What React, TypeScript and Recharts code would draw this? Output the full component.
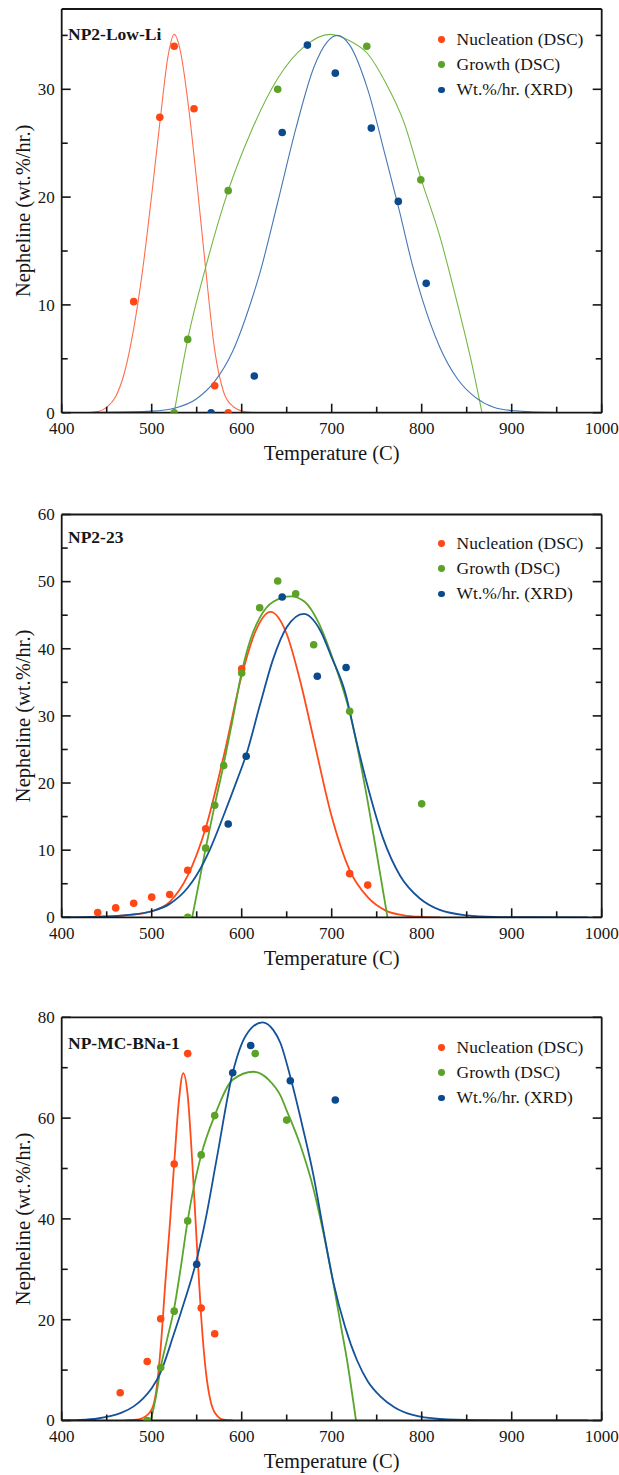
import React from 'react';
import { ComposedChart, Line, Scatter, XAxis, YAxis, Legend, Label } from 'recharts';

const FONT = '"Liberation Serif", "Times New Roman", serif';
const INK = '#161616';

// ---------- shared axis ticks ----------
const xTicks = [400, 450, 500, 550, 600, 650, 700, 750, 800, 850, 900, 950, 1000];
const xMajor = [400, 500, 600, 700, 800, 900, 1000];
const seriesNames = ['Nucleation (DSC)', 'Growth (DSC)', 'Wt.%/hr. (XRD)'];
const dotColors = ['#FF4716', '#5BA227', '#0B4A8C'];

// ---------- Panel 1: NP2-Low-Li ----------
const p1Title = 'NP2-Low-Li';
const p1YTicks = [0, 5, 10, 15, 20, 25, 30, 35];
const p1YMajor = [0, 10, 20, 30];
const p1NucT = [480, 509, 525, 547, 570, 585];
const p1NucV = [10.3, 27.4, 34.0, 28.2, 2.5, 0];
const p1GroT = [525, 540, 585, 640, 739, 799];
const p1GroV = [0, 6.8, 20.6, 30.0, 34.0, 21.6];
const p1XrdT = [566, 614, 645, 673, 704, 744, 774, 805];
const p1XrdV = [0, 3.4, 26.0, 34.1, 31.5, 26.4, 19.6, 12.0];
const p1NucCurveT = [430, 440, 450, 460, 470, 480, 490, 500, 510, 518, 525, 532, 540, 550, 560, 570, 580, 590, 600, 610, 620];
const p1NucCurveV = [0, 0.1, 0.5, 1.5, 3.8, 7.8, 13.3, 20.2, 27.6, 33.0, 35.1, 33.5, 29.0, 21.5, 13.3, 5.8, 1.9, 0.6, 0.15, 0.03, 0];
const p1GroCurveT = [525, 540, 560, 585, 610, 640, 670, 698, 720, 740, 760, 780, 800, 820, 840, 855, 867];
const p1GroCurveV = [0, 6.8, 13.5, 20.6, 26.0, 31.0, 34.0, 35.1, 34.5, 33.3, 30.6, 27.0, 21.5, 16.4, 10.0, 4.8, 0];
const p1XrdCurveT = [400, 450, 500, 525, 550, 570, 590, 610, 620, 640, 660, 680, 695, 706, 720, 740, 760, 775, 790, 800, 820, 840, 860, 880, 900, 950, 985];
const p1XrdCurveV = [0, 0.03, 0.15, 0.42, 1.3, 2.9, 5.7, 10.2, 12.9, 19.5, 26.3, 32.0, 34.4, 35.0, 34.1, 30.0, 23.7, 18.8, 13.6, 10.7, 6.1, 3.1, 1.4, 0.5, 0.2, 0.01, 0];

// ---------- Panel 2: NP2-23 ----------
const p2Title = 'NP2-23';
const p2YTicks = [0, 5, 10, 15, 20, 25, 30, 35, 40, 45, 50, 55, 60];
const p2YMajor = [0, 10, 20, 30, 40, 50, 60];
const p2NucT = [440, 460, 480, 500, 520, 540, 560, 600, 720, 740];
const p2NucV = [0.7, 1.4, 2.1, 3.0, 3.4, 7.0, 13.2, 37.0, 6.5, 4.8];
const p2GroT = [540, 560, 570, 580, 600, 620, 640, 660, 680, 720, 800];
const p2GroV = [0, 10.3, 16.7, 22.6, 36.4, 46.1, 50.1, 48.2, 40.6, 30.7, 16.9];
const p2XrdT = [585, 605, 645, 684, 716];
const p2XrdV = [13.9, 24.0, 47.7, 35.9, 37.2];
const p2NucCurveT = [450, 470, 490, 500, 520, 540, 560, 580, 600, 615, 632, 650, 665, 680, 700, 720, 740, 760, 780, 800, 820];
const p2NucCurveV = [0.1, 0.3, 0.6, 0.9, 2.3, 6.2, 13.3, 24.0, 36.0, 42.5, 45.5, 42.2, 35.2, 26.5, 15.0, 7.0, 3.0, 1.0, 0.3, 0.07, 0];
const p2GroCurveT = [545, 560, 570, 580, 590, 600, 610, 620, 635, 655, 670, 685, 702, 720, 739, 750, 762];
const p2GroCurveV = [0, 10.3, 16.7, 22.8, 29.5, 36.5, 41.5, 44.6, 47.0, 47.8, 47.0, 44.0, 38.2, 30.5, 18.0, 9.5, 0];
const p2XrdCurveT = [400, 440, 470, 500, 520, 540, 550, 565, 580, 595, 605, 620, 635, 650, 669, 687, 700, 715, 727, 739, 757, 776, 798, 820, 850, 880, 920, 985];
const p2XrdCurveV = [0, 0.1, 0.3, 0.9, 2.0, 4.4, 6.3, 10.2, 15.2, 20.5, 24.2, 31.5, 38.5, 43.2, 45.2, 42.8, 38.7, 33.5, 26.5, 20.0, 11.8, 6.2, 2.8, 1.1, 0.3, 0.07, 0.01, 0];

// ---------- Panel 3: NP-MC-BNa-1 ----------
const p3Title = 'NP-MC-BNa-1';
const p3YTicks = [0, 10, 20, 30, 40, 50, 60, 70, 80];
const p3YMajor = [0, 20, 40, 60, 80];
const p3NucT = [465, 495, 510, 525, 540, 555, 570];
const p3NucV = [5.5, 11.7, 20.2, 50.9, 72.8, 22.3, 17.2];
const p3GroT = [495, 510, 525, 540, 555, 570, 615, 650];
const p3GroV = [0, 10.5, 21.7, 39.6, 52.7, 60.5, 72.8, 59.6];
const p3XrdT = [550, 590, 610, 654, 704];
const p3XrdV = [31.0, 69.0, 74.4, 67.4, 63.6];
const p3NucCurveT = [470, 480, 490, 500, 505, 510, 515, 520, 525, 530, 535, 540, 545, 550, 555, 560, 565, 570, 580, 590];
const p3NucCurveV = [0, 0.1, 0.5, 2.2, 5.8, 14.5, 27.0, 38.5, 51.0, 63.0, 68.9, 64.5, 51.5, 35.5, 20.5, 10.0, 4.2, 1.6, 0.15, 0];
const p3GroCurveT = [499, 505, 510, 517, 525, 532, 540, 555, 570, 590, 613, 630, 643, 650, 665, 680, 692, 702, 710, 717, 727];
const p3GroCurveV = [0, 5.0, 10.5, 16.0, 22.3, 30.0, 39.7, 52.7, 60.5, 67.6, 69.2, 67.6, 64.5, 61.5, 54.7, 45.8, 36.2, 27.0, 19.0, 12.0, 0];
const p3XrdCurveT = [400, 420, 440, 455, 466, 480, 490, 500, 510, 524, 537, 549, 560, 572, 590, 605, 623, 635, 643, 655, 668, 680, 690, 702, 715, 728, 740, 754, 770, 790, 820, 860, 900, 985];
const p3XrdCurveV = [0, 0.1, 0.4, 0.9, 1.5, 2.8, 4.3, 6.4, 9.6, 16.8, 24.0, 31.2, 40.0, 51.7, 69.0, 76.5, 79.0, 77.5, 74.9, 67.5, 58.0, 48.4, 38.5, 27.3, 18.5, 12.0, 7.8, 4.8, 2.6, 1.1, 0.3, 0.05, 0.01, 0];

const zip = (xs: number[], ys: number[]) => xs.map((x, i) => ({ x, y: ys[i] }));

// ---------- tick renderers ----------
const MAJ = 9;
const MIN = 6;

const makeBottomTick = (major: number[]) => (props: any) => {
  const { x, y, payload } = props;
  const isMaj = major.includes(payload.value);
  return (
    <g>
      <line x1={x} y1={y} x2={x} y2={y - (isMaj ? MAJ : MIN)} stroke={INK} strokeWidth={1.6} />
      {isMaj && (
        <text x={x} y={y + 21.5} textAnchor="middle" fontFamily={FONT} fontSize={17} fill={INK}>
          {payload.value}
        </text>
      )}
    </g>
  );
};
const makeTopTick = (major: number[]) => (props: any) => {
  const { x, y, payload } = props;
  const isMaj = major.includes(payload.value);
  return <line x1={x} y1={y} x2={x} y2={y + (isMaj ? MAJ : MIN)} stroke={INK} strokeWidth={1.6} />;
};
const makeLeftTick = (major: number[]) => (props: any) => {
  const { x, y, payload } = props;
  const isMaj = major.includes(payload.value);
  return (
    <g>
      <line x1={x} y1={y} x2={x + (isMaj ? MAJ : MIN)} y2={y} stroke={INK} strokeWidth={1.6} />
      {isMaj && (
        <text x={x - 7} y={y + 5.8} textAnchor="end" fontFamily={FONT} fontSize={17} fill={INK}>
          {payload.value}
        </text>
      )}
    </g>
  );
};
const makeRightTick = (major: number[]) => (props: any) => {
  const { x, y, payload } = props;
  const isMaj = major.includes(payload.value);
  return <line x1={x} y1={y} x2={x - (isMaj ? MAJ : MIN)} y2={y} stroke={INK} strokeWidth={1.6} />;
};

const renderLegend = (props: any) => {
  const payload = (props.payload || [])
    .filter((e: any) => seriesNames.includes(e.value))
    .sort((a: any, b: any) => seriesNames.indexOf(a.value) - seriesNames.indexOf(b.value));
  return (
    <div style={{ fontFamily: FONT, fontSize: 17.5, color: INK, lineHeight: '25.3px' }}>
      {payload.map((e: any) => (
        <div key={e.value} style={{ display: 'flex', alignItems: 'center', whiteSpace: 'nowrap' }}>
          <span
            style={{
              display: 'inline-block',
              width: 6.8,
              height: 6.8,
              borderRadius: '50%',
              background: e.color,
              marginRight: 11.5,
            }}
          />
          <span>{e.value}</span>
        </div>
      ))}
    </div>
  );
};

const makeDot = (color: string) => (props: any) => <circle cx={props.cx} cy={props.cy} r={3.8} fill={color} />;

type PanelProps = {
  top: number;
  height: number;
  margin: { top: number; bottom: number };
  yMax: number;
  yTicks: number[];
  yMajor: number[];
  title: string;
  titleTop: number;
  legendTop: number;
  points: { x: number; y: number }[][];
  curves: { x: number; y: number }[][];
  lineColors: string[];
  lineWidth: number;
};

const Panel = (p: PanelProps) => {
  // axes are 1px thick boxes, so margins are reduced by 1 to keep the plot frame in place
  const margin = { top: p.margin.top - 1, bottom: p.margin.bottom - 1, left: 60.7, right: 16.3 };
  return (
    <div style={{ position: 'absolute', left: 0, top: p.top, width: 619, height: p.height }}>
      <ComposedChart width={619} height={p.height} margin={margin}>
        <XAxis
          xAxisId="b"
          dataKey="x"
          type="number"
          orientation="bottom"
          domain={[400, 1000]}
          ticks={xTicks}
          interval={0}
          allowDataOverflow
          height={1}
          tickSize={0}
          tickMargin={0}
          tickLine={false}
          axisLine={{ stroke: INK, strokeWidth: 1.8 }}
          tick={makeBottomTick(xMajor)}
        >
          <Label value="Temperature (C)" position="bottom" offset={32} fontFamily={FONT} fontSize={20.5} fill={INK} />
        </XAxis>
        <XAxis
          xAxisId="t"
          type="number"
          orientation="top"
          domain={[400, 1000]}
          ticks={xTicks}
          interval={0}
          allowDataOverflow
          height={1}
          tickSize={0}
          tickMargin={0}
          tickLine={false}
          axisLine={{ stroke: INK, strokeWidth: 1.8 }}
          tick={makeTopTick(xMajor)}
        />
        <YAxis
          yAxisId="l"
          dataKey="y"
          type="number"
          orientation="left"
          domain={[0, p.yMax]}
          ticks={p.yTicks}
          interval={0}
          allowDataOverflow
          width={1}
          tickSize={0}
          tickMargin={0}
          tickLine={false}
          axisLine={{ stroke: INK, strokeWidth: 1.8 }}
          tick={makeLeftTick(p.yMajor)}
        >
          <Label
            value="Nepheline (wt.%/hr.)"
            angle={-90}
            position="left"
            offset={38.2}
            fontFamily={FONT}
            fontSize={20.5}
            fill={INK}
            style={{ textAnchor: 'middle' }}
          />
        </YAxis>
        <YAxis
          yAxisId="r"
          type="number"
          orientation="right"
          domain={[0, p.yMax]}
          ticks={p.yTicks}
          interval={0}
          allowDataOverflow
          width={1}
          tickSize={0}
          tickMargin={0}
          tickLine={false}
          axisLine={{ stroke: INK, strokeWidth: 1.8 }}
          tick={makeRightTick(p.yMajor)}
        />
        {p.curves.map((c, i) => (
          <Line
            key={'c' + i}
            data={c}
            dataKey="y"
            xAxisId="b"
            yAxisId="l"
            type="monotone"
            stroke={p.lineColors[i]}
            strokeWidth={p.lineWidth}
            dot={false}
            activeDot={false}
            legendType="none"
            isAnimationActive={false}
          />
        ))}
        {p.points.map((pts, i) => (
          <Scatter
            key={'s' + i}
            name={seriesNames[i]}
            data={pts}
            xAxisId="b"
            yAxisId="l"
            fill={dotColors[i]}
            shape={makeDot(dotColors[i])}
            isAnimationActive={false}
          />
        ))}
        <Legend
          layout="vertical"
          align="center"
          verticalAlign="middle"
          wrapperStyle={{ left: 438.3, top: p.legendTop, width: 170 }}
          content={renderLegend}
        />
      </ComposedChart>
      <div
        style={{
          position: 'absolute',
          left: 68,
          top: p.titleTop,
          fontFamily: FONT,
          fontWeight: 'bold',
          fontSize: 17.5,
          lineHeight: '20px',
          color: INK,
          whiteSpace: 'nowrap',
        }}
      >
        {p.title}
      </div>
    </div>
  );
};

const thinLines = ['#FF6E4E', '#74B745', '#4677B5'];
const boldLines = ['#FF4A1A', '#5AA52C', '#14539B'];

export default function App() {
  return (
    <div style={{ position: 'absolute', left: 0, top: 0, width: 619, height: 1475, background: '#fff', fontFamily: FONT }}>
      <Panel
        top={0}
        height={480}
        margin={{ top: 9, bottom: 67.3 }}
        yMax={37.45}
        yTicks={p1YTicks}
        yMajor={p1YMajor}
        title={p1Title}
        titleTop={24}
        legendTop={26.7}
        points={[zip(p1NucT, p1NucV), zip(p1GroT, p1GroV), zip(p1XrdT, p1XrdV)]}
        curves={[zip(p1NucCurveT, p1NucCurveV), zip(p1GroCurveT, p1GroCurveV), zip(p1XrdCurveT, p1XrdCurveV)]}
        lineColors={thinLines}
        lineWidth={1.1}
      />
      <Panel
        top={480}
        height={500}
        margin={{ top: 34.5, bottom: 62.7 }}
        yMax={60}
        yTicks={p2YTicks}
        yMajor={p2YMajor}
        title={p2Title}
        titleTop={46.7}
        legendTop={50.7}
        points={[zip(p2NucT, p2NucV), zip(p2GroT, p2GroV), zip(p2XrdT, p2XrdV)]}
        curves={[zip(p2NucCurveT, p2NucCurveV), zip(p2GroCurveT, p2GroCurveV), zip(p2XrdCurveT, p2XrdCurveV)]}
        lineColors={boldLines}
        lineWidth={1.8}
      />
      <Panel
        top={980}
        height={495}
        margin={{ top: 37.3, bottom: 54.5 }}
        yMax={80}
        yTicks={p3YTicks}
        yMajor={p3YMajor}
        title={p3Title}
        titleTop={52.5}
        legendTop={54.7}
        points={[zip(p3NucT, p3NucV), zip(p3GroT, p3GroV), zip(p3XrdT, p3XrdV)]}
        curves={[zip(p3NucCurveT, p3NucCurveV), zip(p3GroCurveT, p3GroCurveV), zip(p3XrdCurveT, p3XrdCurveV)]}
        lineColors={boldLines}
        lineWidth={1.8}
      />
    </div>
  );
}
